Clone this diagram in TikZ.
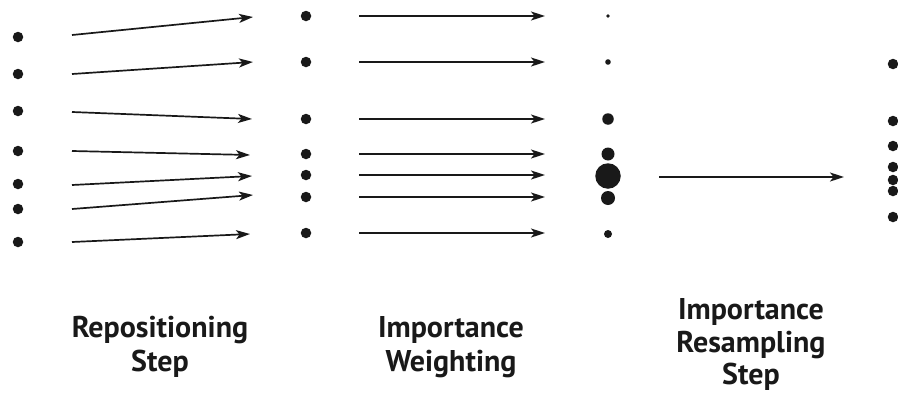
\documentclass[tikz,border=0pt]{standalone}
\usepackage{fontspec}
\setmainfont{PT Sans}
\usetikzlibrary{arrows.meta}
\tikzset{
  particle/.style={circle,fill=black!90,inner sep=0pt,minimum size=#1},
  particle/.default=10.5pt,
  move/.style={line width=1.7pt,black!90,-{Stealth[length=14pt,width=9pt,inset=3.5pt]}},
  caption/.style={align=center,inner sep=0pt,font=\bfseries\fontsize{30}{34}\selectfont,text=black!90}
}
\begin{document}
\begin{tikzpicture}[x=1pt,y=-1pt]
\path[use as bounding box] (0,0) rectangle (898,394);

% initial particles
\foreach \i/\y in {1/37,2/74,3/111,4/151,5/184,6/209,7/242}
  \node[particle] (a\i) at (18,\y) {};

% repositioning moves
\foreach \i/\ys/\ye/\xe in {1/35/17/253,2/74/62/253,3/112/119/252,4/151/155/250,5/185/176/252,6/209/195/253,7/242/234/250}{
  \coordinate (ps\i) at (72,\ys);
  \coordinate (pe\i) at (\xe,\ye);
  \draw[move] (ps\i) -- (pe\i);
}

% repositioned particles
\foreach \i/\y in {1/16,2/62,3/119,4/154,5/175,6/197,7/233}
  \node[particle] (b\i) at (306,\y) {};

% weighting arrows
\foreach \i/\y in {1/16,2/62,3/119,4/154,5/175,6/197,7/233}{
  \coordinate (ws\i) at (359,\y);
  \coordinate (we\i) at (545,\y);
  \draw[move] (ws\i) -- (we\i);
}

% weighted particles
\foreach \i/\y/\d in {1/16/3.6pt,2/62/5.6pt,3/119/11.5pt,4/154/13pt,5/176/25.5pt,6/198/14pt,7/234/8pt}
  \node[particle=\d] (c\i) at (608,\y) {};

% resampling arrow
\coordinate (rs) at (659,177);
\coordinate (re) at (844,177);
\draw[move] (rs) -- (re);

% resampled particles
\foreach \i/\y in {1/64,2/121,3/146,4/167,5/180,6/191,7/217}
  \node[particle] (d\i) at (893,\y) {};

% captions
\node[caption] (l1) at (160,347) {Repositioning\\Step};
\node[caption] (l2) at (451,347) {Importance\\Weighting};
\node[caption,font=\bfseries\fontsize{30}{32.5}\selectfont] (l3) at (751,344.5) {Importance\\Resampling\\Step};
\end{tikzpicture}
\end{document}
